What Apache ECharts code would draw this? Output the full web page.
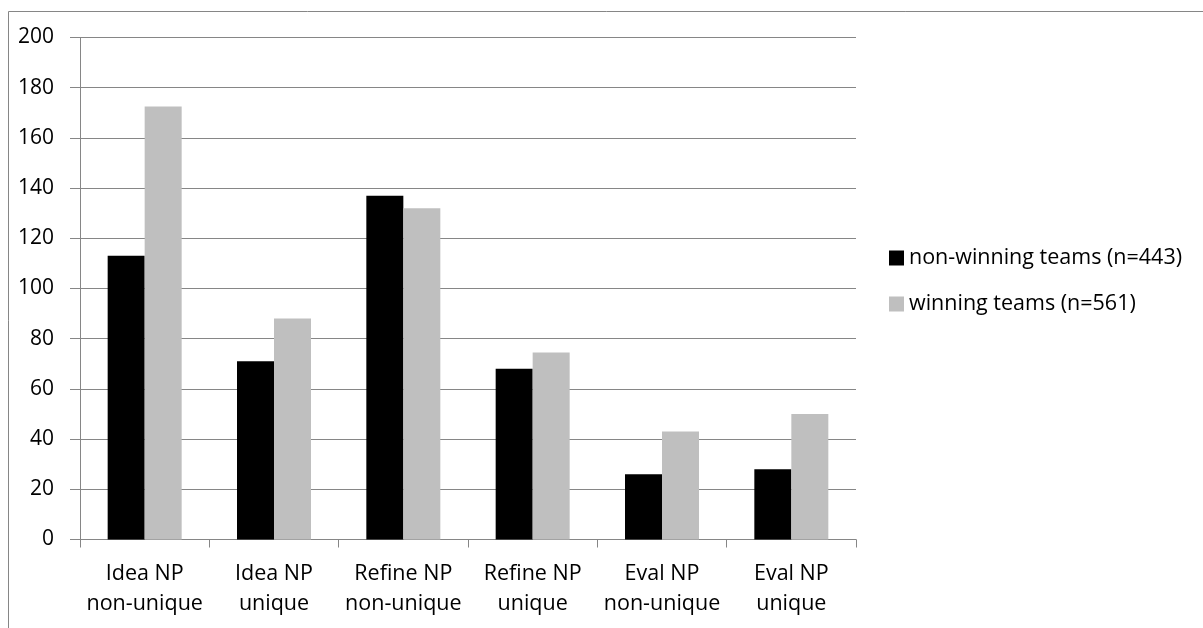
<!DOCTYPE html>
<html>
<head>
<meta charset="utf-8">
<script src="https://cdn.jsdelivr.net/npm/echarts@6/dist/echarts.min.js"></script>
<style>
  html, body { margin: 0; padding: 0; background: #fff; }
  #chart { width: 1203px; height: 628px; }
</style>
</head>
<body>
<div id="chart"></div>
<script>
// Noun-phrase counts per design phase, by team outcome
const categories = [
  'Idea NP\nnon-unique', 'Idea NP\nunique',
  'Refine NP\nnon-unique', 'Refine NP\nunique',
  'Eval NP\nnon-unique', 'Eval NP\nunique'
];
const seriesNames = ['non-winning teams (n=443)', 'winning teams (n=561)'];
const nonWinning = [113, 71, 137, 68, 26, 28];
const winning = [172.5, 88, 132, 74.5, 43, 50];

const FONT = '"Open Sans", sans-serif';
const LINE = '#868686';

const chart = echarts.init(document.getElementById('chart'), null, { renderer: 'canvas' });
chart.setOption({
  animation: false,
  backgroundColor: '#ffffff',
  graphic: [{
    type: 'rect',
    shape: { x: 8.5, y: 11.5, width: 1300, height: 700 },
    style: { fill: 'none', stroke: LINE, lineWidth: 1 },
    silent: true
  }],
  grid: { left: 80, top: 37.5, right: 347, bottom: 88.5, containLabel: false },
  legend: {
    orient: 'vertical',
    left: 884,
    top: 242,
    itemWidth: 15,
    itemHeight: 15,
    itemGap: 24,
    icon: 'rect',
    textStyle: { fontFamily: FONT, fontSize: 21.5, lineHeight: 22, color: '#000' },
    data: seriesNames
  },
  xAxis: {
    type: 'category',
    data: categories,
    axisLine: { lineStyle: { color: LINE, width: 1 } },
    axisTick: { show: true, length: 8, lineStyle: { color: LINE } },
    axisLabel: {
      fontFamily: FONT, fontSize: 21.5, color: '#000',
      lineHeight: 30, margin: 19, interval: 0
    }
  },
  yAxis: {
    type: 'value',
    min: 0, max: 200, interval: 20,
    axisLine: { show: true, lineStyle: { color: LINE, width: 1 } },
    axisTick: { show: true, length: 10, lineStyle: { color: LINE } },
    splitLine: { show: true, lineStyle: { color: LINE, width: 1 } },
    axisLabel: { fontFamily: FONT, fontSize: 21, color: '#000', margin: 26 }
  },
  series: [
    {
      name: seriesNames[0], type: 'bar', data: nonWinning,
      itemStyle: { color: '#000000' },
      barWidth: 37, barGap: '0%'
    },
    {
      name: seriesNames[1], type: 'bar', data: winning,
      itemStyle: { color: '#bfbfbf' },
      barWidth: 37, barGap: '0%'
    }
  ]
});
</script>
</body>
</html>
